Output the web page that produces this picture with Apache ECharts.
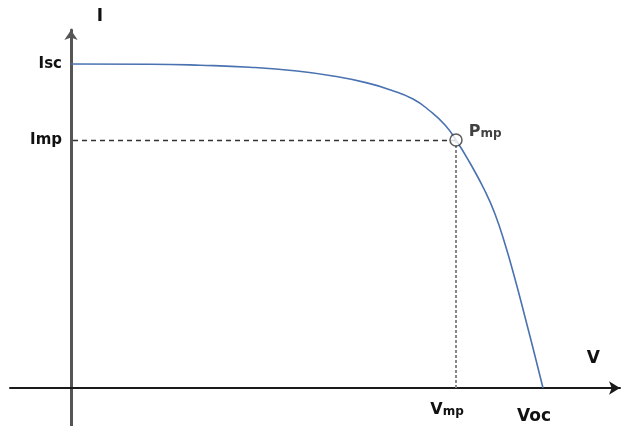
<!DOCTYPE html>
<html>
<head>
<meta charset="utf-8">
<script src="https://cdn.jsdelivr.net/npm/echarts@6/dist/echarts.min.js"></script>
<style>
html,body{margin:0;padding:0;background:#fff;}
#chart{width:622px;height:426px;}
</style>
</head>
<body>
<div id="chart"></div>
<script>
// I-V curve samples (arbitrary units)
const voltage = [0, 7.9, 12.9, 17.9, 22.6, 26.2, 29.6, 31.9, 34.2, 35.9, 37.4, 38.5, 39.9, 41.4, 42.4, 43.4, 44.4, 45.4, 46.4, 47.2];
const current = [32.4, 32.38, 32.28, 32.08, 31.7, 31.2, 30.51, 29.82, 28.9, 27.7, 26.3, 24.8, 22.5, 19.7, 17.4, 14.4, 10.9, 7.1, 3.2, 0];

// key points
const Isc = 32.4;
const Imp = 24.8;
const Vmp = 38.5;
const Voc = 47.2;

// tick labels
const xTickValues = [Vmp, Voc];
const xTickLabels = ['{b|V}{s|mp}', '{c|Voc}'];
const yTickValues = [Isc, Imp];
const yTickLabels = ['Isc', 'Imp'];

const axisNames = { x: 'V', y: 'I' };

const FONT = '"DejaVu Sans", sans-serif';
const chart = echarts.init(document.getElementById('chart'), null, { renderer: 'canvas' });

const curve = voltage.map((v, i) => [v, current[i]]);

chart.setOption({
  animation: false,
  backgroundColor: '#ffffff',
  grid: { left: 10, right: 2, top: 30, bottom: 0, containLabel: false, outerBoundsMode: 'none' },
  xAxis: {
    type: 'value',
    min: -6.1,
    max: 54.9,
    offset: -38,
    name: axisNames.x,
    nameLocation: 'end',
    nameGap: 0,
    nameTextStyle: {
      fontFamily: FONT, fontWeight: 'bold', fontSize: 17, color: '#111',
      align: 'right', verticalAlign: 'bottom', padding: [0, 20, 21, 0]
    },
    axisLine: {
      show: true, onZero: false,
      symbol: ['none', 'arrow'], symbolSize: [10, 11],
      lineStyle: { color: '#1a1a1a', width: 2 }
    },
    axisTick: { show: false },
    splitLine: { show: false },
    axisLabel: {
      customValues: xTickValues,
      margin: 14,
      formatter: function (v) {
        const i = xTickValues.indexOf(v);
        return i >= 0 ? xTickLabels[i] : '';
      },
      rich: {
        b: { fontFamily: FONT, fontWeight: 'bold', fontSize: 16, color: '#111' },
        s: { fontFamily: FONT, fontWeight: 'bold', fontSize: 12, color: '#111', padding: [3, 0, 0, 0] },
        c: { fontFamily: FONT, fontWeight: 'bold', fontSize: 17, color: '#111', padding: [6, 0, 0, 0] }
      },
      padding: [0, 18, 0, 0]
    }
  },
  yAxis: {
    type: 'value',
    min: -3.8,
    max: 35.8,
    offset: -61,
    name: axisNames.y,
    nameLocation: 'end',
    nameGap: 5,
    nameTextStyle: {
      fontFamily: FONT, fontWeight: 'bold', fontSize: 17, color: '#111',
      padding: [0, 0, 0, 58]
    },
    axisLine: {
      show: true, onZero: false,
      symbol: ['none', 'arrow'], symbolSize: [10, 10],
      lineStyle: { color: '#555', width: 3 }
    },
    axisTick: { show: false },
    splitLine: { show: false },
    axisLabel: {
      customValues: yTickValues,
      margin: 9,
      fontFamily: FONT, fontWeight: 'bold', fontSize: 15, color: '#111',
      formatter: function (v) {
        const i = yTickValues.indexOf(v);
        return i >= 0 ? yTickLabels[i] : '';
      }
    }
  },
  series: [
    {
      type: 'line',
      data: curve,
      smooth: 0.5,
      showSymbol: false,
      lineStyle: { color: '#4a72b0', width: 1.6 },
      z: 3
    },
    {
      type: 'scatter',
      data: [[Vmp, Imp]],
      symbol: 'circle',
      symbolSize: 12,
      itemStyle: { color: '#ffffff', borderColor: '#333', borderWidth: 1.5 },
      label: {
        show: true,
        position: 'right',
        distance: 6,
        offset: [0, -8],
        formatter: '{b|P}{s|mp}',
        rich: {
          b: { fontFamily: FONT, fontWeight: 'bold', fontSize: 16, color: '#111' },
          s: { fontFamily: FONT, fontWeight: 'bold', fontSize: 12, color: '#111', padding: [3, 0, 0, 0] }
        }
      },
      z: 5,
      markLine: {
        silent: true,
        symbol: ['none', 'none'],
        label: { show: false },
        data: [
          [{ coord: [0.2, Imp], lineStyle: { color: '#333', width: 1.3, type: [5, 4] } }, { coord: [Vmp, Imp] }],
          [{ coord: [Vmp, Imp], lineStyle: { color: '#888', width: 2, type: [3, 2] } }, { coord: [Vmp, 0] }]
        ]
      }
    }
  ]
});
</script>
</body>
</html>
